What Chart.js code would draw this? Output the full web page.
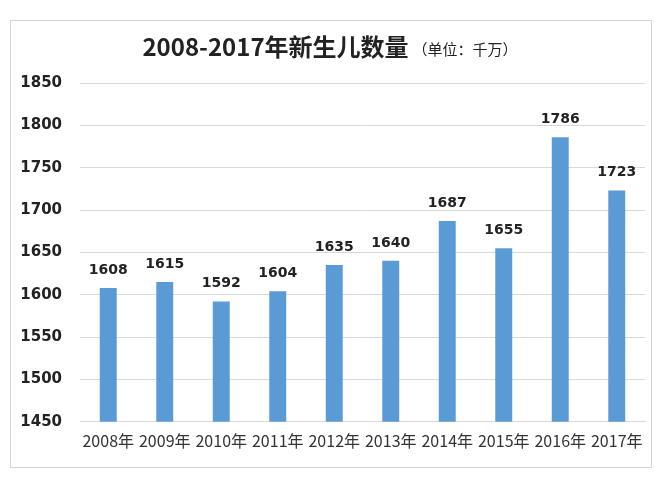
<!DOCTYPE html>
<html>
<head>
<meta charset="utf-8">
<script src="https://cdn.jsdelivr.net/npm/chart.js@4.4.1/dist/chart.umd.min.js"></script>
<style>
  html, body { margin: 0; padding: 0; background: #fff; }
  #wrap { width: 662px; height: 478px; }
</style>
</head>
<body>
<div id="wrap"><canvas id="births" width="662" height="478"></canvas></div>
<script>
// 数据
var years = ["2008年", "2009年", "2010年", "2011年", "2012年", "2013年", "2014年", "2015年", "2016年", "2017年"];
var births = [1608, 1615, 1592, 1604, 1635, 1640, 1687, 1655, 1786, 1723];
var yMin = 1450;
var yMax = 1850;
var yStep = 50;

var titleMain = "2008-2017年新生儿数量";
var titleUnit = "（单位：千万）";

// 外框 + 标题 + 数值标签
var decorations = {
    id: 'decorations',
    beforeDraw: function (chart) {
        var ctx = chart.ctx;
        ctx.save();
        ctx.fillStyle = '#fff';
        ctx.fillRect(0, 0, chart.width, chart.height);
        ctx.strokeStyle = '#d4d4d4';
        ctx.lineWidth = 1;
        ctx.strokeRect(10.5, 20.5, 641, 447);
        ctx.restore();
    },
    afterDraw: function (chart) {
        var ctx = chart.ctx;
        ctx.save();
        // 标题
        ctx.textBaseline = 'middle';
        ctx.fillStyle = '#222';
        ctx.font = 'bold 24px "Noto Sans CJK SC"';
        var w1 = ctx.measureText(titleMain).width;
        ctx.font = '15px "Noto Sans CJK SC"';
        var w2 = ctx.measureText(titleUnit).width;
        var x0 = 330 - (w1 + w2 + 4) / 2;
        ctx.textAlign = 'left';
        ctx.font = 'bold 24px "Noto Sans CJK SC"';
        ctx.fillText(titleMain, x0, 47);
        ctx.font = '15px "Noto Sans CJK SC"';
        ctx.fillText(titleUnit, x0 + w1 + 4, 49);

        // 数值
        ctx.font = 'bold 14px "DejaVu Sans"';
        ctx.textAlign = 'center';
        ctx.fillStyle = '#222';
        chart.getDatasetMeta(0).data.forEach(function (bar, i) {
            ctx.fillText(births[i], bar.x, bar.y - 18);
        });
        ctx.restore();
    }
};

new Chart(document.getElementById('births'), {
    type: 'bar',
    data: {
        labels: years,
        datasets: [{
            label: '新生儿数量',
            data: births,
            backgroundColor: '#5b9bd5',
            borderWidth: 0,
            barPercentage: 0.3,
            categoryPercentage: 1
        }]
    },
    options: {
        responsive: false,
        animation: false,
        layout: { padding: { left: 10, right: 17, top: 83, bottom: 25 } },
        plugins: {
            legend: { display: false },
            tooltip: { enabled: false }
        },
        scales: {
            x: {
                grid: { display: false },
                border: { display: true, color: '#d9d9d9' },
                ticks: {
                    color: '#333',
                    padding: 2,
                    maxRotation: 0,
                    autoSkip: false,
                    font: { family: '"Noto Sans CJK SC"', size: 16 }
                }
            },
            y: {
                min: yMin,
                max: yMax,
                afterFit: function (scale) { scale.width = 70; },
                border: { display: false },
                grid: { color: '#d9d9d9', drawTicks: false },
                ticks: {
                    stepSize: yStep,
                    color: '#222',
                    padding: 18,
                    callback: function (v) { return String(v); },
                    font: { family: '"DejaVu Sans"', size: 15, weight: 'bold' }
                }
            }
        }
    },
    plugins: [decorations]
});
</script>
</body>
</html>
